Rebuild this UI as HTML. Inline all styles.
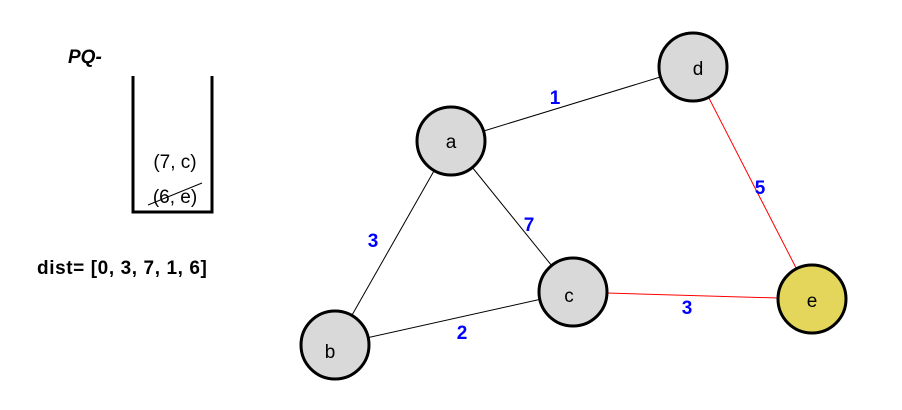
<!DOCTYPE html>
<html><head><meta charset="utf-8"><style>
html,body{margin:0;padding:0;background:#fff;}
svg{display:block;}
</style></head><body>
<svg width="902" height="410" viewBox="0 0 902 410" xmlns="http://www.w3.org/2000/svg" font-family="Liberation Sans, sans-serif">
<rect width="902" height="410" fill="#fff"/>
<text x="68" y="63" font-size="19" font-weight="bold" font-style="italic">PQ-</text>
<path d="M133 76 V212 H212 V76" fill="none" stroke="#000" stroke-width="3"/>
<text x="175" y="168" font-size="19" text-anchor="middle">(7, c)</text>
<text x="175" y="203" font-size="19" text-anchor="middle">(6, e)</text>
<line x1="148" y1="205" x2="202" y2="183" stroke="#000" stroke-width="1"/>
<text x="37" y="274" font-size="19" font-weight="bold" letter-spacing="0.6">dist= [0, 3, 7, 1, 6]</text>
<g stroke-width="1">
<line x1="451" y1="141" x2="693" y2="67" stroke="#000"/>
<line x1="451" y1="141" x2="335" y2="345" stroke="#000"/>
<line x1="451" y1="141" x2="573" y2="292" stroke="#000"/>
<line x1="335" y1="345" x2="573" y2="292" stroke="#000"/>
<line x1="693" y1="67" x2="812" y2="299" stroke="#f00"/>
<line x1="573" y1="292" x2="812" y2="299" stroke="#f00"/>
</g>
<g stroke="#000" stroke-width="3" fill="#d9d9d9">
<circle cx="451" cy="141" r="34"/>
<circle cx="693" cy="67" r="34"/>
<circle cx="335" cy="345" r="34"/>
<circle cx="573" cy="292" r="34"/>
<circle cx="812" cy="299" r="34" fill="#e3d65b"/>
</g>
<g font-size="19" text-anchor="middle">
<text x="451" y="148">a</text>
<text x="698" y="75">d</text>
<text x="330" y="358">b</text>
<text x="569" y="302">c</text>
<text x="812" y="307">e</text>
</g>
<g font-size="19" font-weight="bold" fill="#0000ff" text-anchor="middle">
<text x="555" y="104">1</text>
<text x="760" y="194">5</text>
<text x="529" y="231">7</text>
<text x="373" y="247">3</text>
<text x="462" y="339">2</text>
<text x="687" y="314">3</text>
</g>
</svg>
</body></html>
